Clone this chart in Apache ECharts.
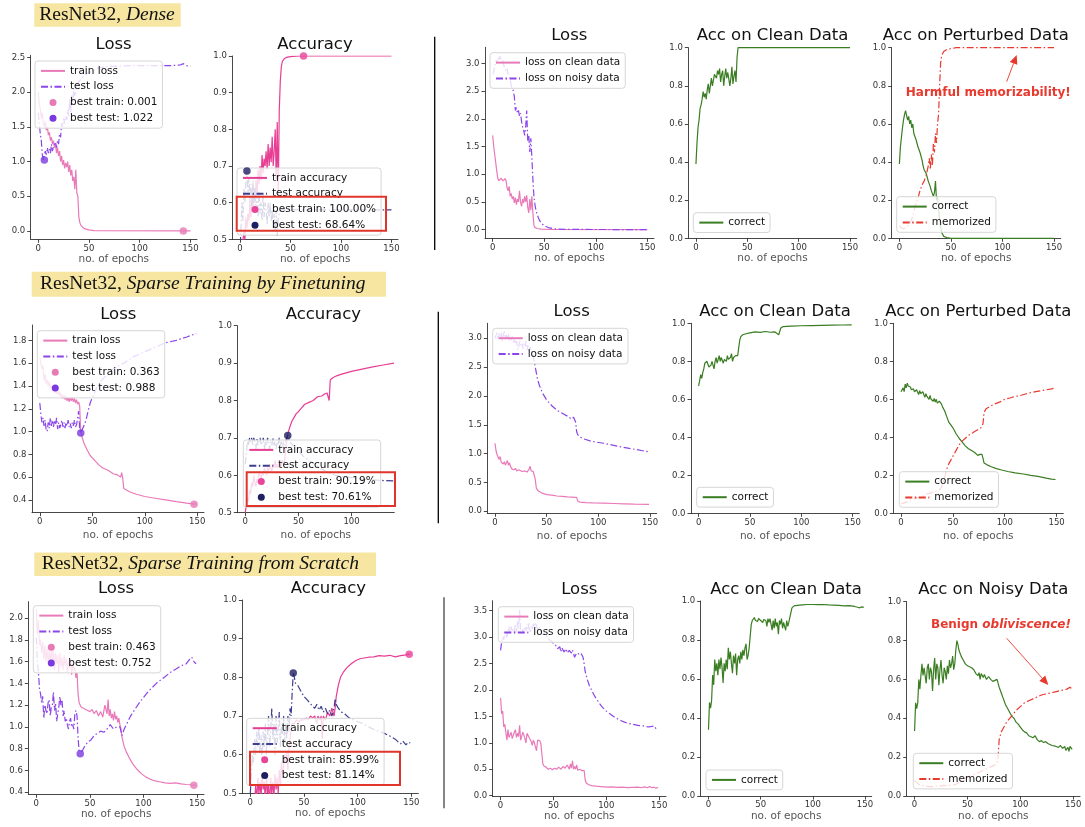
<!DOCTYPE html>
<html>
<head>
<meta charset="utf-8">
<script src="https://cdn.jsdelivr.net/npm/echarts@6/dist/echarts.min.js"></script>
<style>
html,body{margin:0;padding:0;background:#fff;}
#chart{width:1085px;height:827px;}
</style>
</head>
<body>
<div id="chart"></div>
<script>
// ---------------- tick labels ----------------
const epochTicks = [0, 50, 100, 150];
const epochTicksShort = [0, 50, 100];
const accTicks = [0.5, 0.6, 0.7, 0.8, 0.9, 1.0];
const fracTicks = [0, 0.2, 0.4, 0.6, 0.8, 1.0];
const denseLossTicks = [0, 0.5, 1.0, 1.5, 2.0, 2.5];
const noisyLossTicks = [0, 0.5, 1.0, 1.5, 2.0, 2.5, 3.0];
const ftLossTicks = [0.4, 0.6, 0.8, 1.0, 1.2, 1.4, 1.6, 1.8];
const scLossTicks = [0.4, 0.6, 0.8, 1.0, 1.2, 1.4, 1.6, 1.8, 2.0];
const scNoisyLossTicks = [0, 0.5, 1.0, 1.5, 2.0, 2.5, 3.0, 3.5];

// ---------------- headers / titles ----------------
const rowHeaders = [["ResNet32, ", "Dense"], ["ResNet32, ", "Sparse Training by Finetuning"], ["ResNet32, ", "Sparse Training from Scratch"]];
const panelTitles = [
  ["Loss", "Accuracy", "Loss", "Acc on Clean Data", "Acc on Perturbed Data"],
  ["Loss", "Accuracy", "Loss", "Acc on Clean Data", "Acc on Perturbed Data"],
  ["Loss", "Accuracy", "Loss", "Acc on Clean Data", "Acc on Noisy Data"]
];
const annotations = ["Harmful memorizability!", "Benign obliviscence!"];

// ---------------- Row 1: Dense ----------------
const denseTrainLoss = [[0,2.0],[1,1.85],[2,1.75],[3,1.62],[4,1.7],[5,1.55],[6,1.5],[7,1.58],[8,1.45],[9,1.5],[10,1.38],[11,1.42],[12,1.3],[13,1.35],[14,1.25],[15,1.3],[16,1.2],[17,1.25],[18,1.12],[19,1.2],[20,1.08],[21,1.15],[22,1.0],[23,1.08],[24,0.95],[25,1.02],[26,0.9],[27,0.98],[28,0.92],[29,1.0],[30,0.85],[31,0.95],[32,0.8],[33,0.88],[34,0.72],[35,0.78],[36,0.6],[37,0.88],[38,0.55],[39,0.5],[40,0.2],[41,0.12],[42,0.08],[44,0.05],[46,0.03],[50,0.015],[55,0.006],[60,0.003],[150,0.001]];
const denseTestLoss = [[0,1.7],[1,1.55],[2,1.4],[3,1.3],[4,1.1],[5,1.022],[6,1.1],[7,1.15],[8,1.1],[9,1.2],[10,1.12],[11,1.18],[12,1.12],[13,1.25],[14,1.15],[15,1.22],[16,1.2],[17,1.28],[18,1.2],[19,1.3],[20,1.25],[21,1.4],[22,1.35],[23,1.55],[24,1.5],[25,1.62],[26,1.55],[27,1.65],[28,1.6],[29,1.75],[30,1.65],[31,1.9],[32,1.7],[33,1.95],[34,1.85],[35,2.05],[36,1.95],[38,2.1],[40,2.15],[43,2.2],[46,2.25],[50,2.28],[55,2.32],[60,2.35],[70,2.37],[90,2.38],[110,2.38],[130,2.38],[140,2.39],[143,2.41],[146,2.38],[150,2.37]];
const denseTrainAcc = [[0,0.42],[2,0.47],[4,0.52],[5,0.5],[6,0.56],[7,0.53],[8,0.57],[9,0.55],[10,0.6],[11,0.56],[12,0.62],[13,0.58],[14,0.64],[15,0.6],[16,0.66],[17,0.62],[18,0.69],[19,0.65],[20,0.7],[21,0.66],[22,0.73],[23,0.68],[24,0.72],[25,0.7],[26,0.74],[27,0.69],[28,0.76],[29,0.7],[30,0.75],[31,0.71],[32,0.78],[33,0.7],[34,0.74],[35,0.8],[36,0.66],[37,0.82],[38,0.62],[39,0.85],[40,0.93],[41,0.97],[42,0.985],[44,0.993],[47,0.997],[52,0.999],[60,1.0],[150,1.0]];
const denseTestAcc = [[0,0.45],[1,0.52],[2,0.6],[3,0.55],[4,0.64],[5,0.6],[6,0.66],[7,0.6864],[8,0.62],[9,0.67],[10,0.6],[11,0.65],[12,0.58],[13,0.66],[14,0.6],[15,0.64],[16,0.58],[17,0.62],[18,0.56],[19,0.63],[20,0.57],[21,0.6],[22,0.55],[23,0.62],[24,0.56],[25,0.6],[26,0.58],[27,0.54],[28,0.6],[29,0.56],[30,0.6],[31,0.55],[32,0.58],[33,0.53],[34,0.57],[35,0.52],[36,0.58],[37,0.51],[38,0.56],[39,0.57],[40,0.58],[45,0.58],[150,0.58]];
const denseCleanLoss = [[0,1.7],[1,1.5],[2,1.35],[3,1.2],[4,1.05],[5,0.92],[6,0.88],[7,0.85],[8,0.93],[9,0.95],[10,0.88],[11,0.85],[12,0.92],[13,0.88],[14,0.75],[15,0.7],[16,0.78],[17,0.6],[18,0.65],[19,0.55],[20,0.6],[21,0.48],[22,0.58],[23,0.45],[24,0.55],[25,0.5],[26,0.7],[27,0.5],[28,0.42],[29,0.55],[30,0.48],[31,0.6],[32,0.5],[33,0.62],[34,0.4],[35,0.3],[36,0.55],[37,0.35],[38,0.6],[39,0.3],[40,0.08],[41,0.04],[43,0.02],[47,0.01],[55,0.003],[150,0.0]];
const denseNoisyLoss = [[0,2.8],[1,2.85],[2,2.95],[3,3.05],[4,3.0],[5,3.1],[6,3.05],[7,3.13],[8,3.08],[9,3.0],[10,3.05],[11,2.95],[12,2.9],[13,2.85],[14,2.9],[15,2.8],[16,2.75],[17,2.7],[18,2.6],[19,2.55],[20,2.5],[21,2.4],[22,2.15],[23,2.2],[24,2.1],[25,2.15],[26,2.05],[27,2.1],[28,1.95],[29,1.85],[30,1.8],[31,1.7],[32,1.85],[33,2.15],[34,1.6],[35,1.7],[36,1.4],[37,1.65],[38,1.3],[39,0.9],[40,0.6],[41,0.45],[42,0.35],[43,0.28],[45,0.18],[47,0.12],[50,0.07],[55,0.03],[62,0.01],[75,0.003],[150,0.0]];
const denseCleanAcc = [[0,0.39],[1,0.5],[2,0.58],[3,0.62],[4,0.68],[5,0.7],[6,0.73],[7,0.77],[8,0.74],[9,0.76],[10,0.73],[11,0.78],[12,0.81],[13,0.76],[14,0.75],[15,0.84],[16,0.8],[17,0.83],[18,0.86],[19,0.87],[20,0.84],[21,0.88],[22,0.86],[23,0.89],[24,0.82],[25,0.86],[26,0.88],[27,0.8],[28,0.85],[29,0.89],[30,0.84],[31,0.87],[32,0.88],[33,0.8],[34,0.84],[35,0.9],[36,0.81],[37,0.85],[38,0.88],[39,0.82],[40,0.95],[41,1.0],[150,1.0]];
const densePertCorrect = [[0,0.39],[1,0.48],[2,0.53],[3,0.58],[4,0.62],[5,0.65],[6,0.67],[7,0.68],[8,0.62],[9,0.64],[10,0.6],[11,0.62],[12,0.58],[13,0.6],[14,0.55],[15,0.56],[16,0.52],[17,0.5],[18,0.48],[19,0.47],[20,0.45],[21,0.44],[22,0.41],[23,0.38],[24,0.36],[25,0.35],[26,0.34],[27,0.33],[28,0.3],[29,0.29],[30,0.27],[31,0.25],[32,0.26],[33,0.22],[34,0.24],[35,0.3],[36,0.2],[37,0.22],[38,0.15],[39,0.1],[40,0.06],[41,0.03],[43,0.01],[46,0.004],[50,0.0],[150,0.0]];
const densePertMemorized = [[0,0.065],[2,0.055],[4,0.05],[6,0.055],[8,0.065],[10,0.08],[12,0.1],[14,0.14],[16,0.18],[18,0.21],[20,0.25],[22,0.28],[24,0.3],[26,0.33],[28,0.38],[29,0.42],[30,0.36],[31,0.44],[32,0.38],[33,0.5],[34,0.45],[35,0.55],[36,0.5],[37,0.6],[38,0.65],[39,0.8],[40,0.92],[41,0.96],[43,0.98],[46,0.99],[50,0.995],[55,1.0],[150,1.0]];
const denseBestTrainLoss = [[143, 0.001]];
const denseBestTestLoss = [[6, 1.022]];
const denseBestTrainAcc = [[63, 1.0]];
const denseBestTestAcc = [[7, 0.6864]];

// ---------------- Row 2: Sparse training by finetuning ----------------
const ftTrainLoss = [[0,1.65],[1,1.6],[2,1.55],[3,1.58],[4,1.45],[5,1.5],[6,1.42],[7,1.45],[8,1.4],[9,1.44],[10,1.38],[11,1.4],[12,1.36],[13,1.38],[14,1.34],[15,1.37],[16,1.33],[17,1.36],[18,1.32],[19,1.35],[20,1.3],[21,1.33],[22,1.29],[23,1.32],[24,1.28],[25,1.31],[26,1.27],[27,1.3],[28,1.26],[29,1.3],[30,1.27],[31,1.3],[32,1.26],[33,1.29],[34,1.25],[35,1.28],[36,1.24],[37,1.26],[38,1.22],[39,1.0],[40,0.96],[42,0.9],[45,0.84],[48,0.79],[52,0.75],[56,0.71],[60,0.68],[65,0.66],[70,0.63],[74,0.62],[77,0.6],[78,0.64],[79,0.59],[80,0.5],[82,0.49],[86,0.47],[92,0.45],[100,0.43],[110,0.415],[120,0.4],[130,0.385],[140,0.372],[147,0.363],[149,0.365]];
const ftTestLoss = [[0,1.25],[1,1.15],[2,1.08],[3,1.12],[4,1.05],[5,1.1],[6,1.02],[7,1.0],[8,1.08],[9,1.03],[10,1.12],[11,1.05],[12,1.1],[13,1.04],[14,1.1],[15,1.06],[16,1.12],[17,1.02],[18,1.08],[19,1.03],[20,1.06],[21,1.1],[22,1.04],[23,1.08],[24,1.03],[25,1.08],[26,1.05],[27,1.1],[28,1.04],[29,1.07],[30,1.03],[31,1.08],[32,1.05],[33,1.1],[34,1.04],[35,1.06],[36,1.12],[37,1.18],[38,1.02],[39,0.988],[40,1.0],[42,1.05],[44,1.1],[46,1.18],[48,1.25],[50,1.3],[54,1.38],[58,1.44],[62,1.48],[66,1.52],[70,1.55],[75,1.58],[80,1.6],[85,1.63],[90,1.66],[100,1.7],[110,1.74],[120,1.78],[130,1.8],[140,1.83],[149,1.86]];
const ftTrainAcc = [[0,0.5],[1,0.52],[2,0.54],[3,0.53],[4,0.56],[5,0.55],[6,0.58],[7,0.57],[8,0.6],[9,0.58],[10,0.57],[11,0.59],[12,0.58],[13,0.61],[14,0.6],[15,0.59],[16,0.61],[17,0.6],[18,0.62],[19,0.61],[20,0.6],[21,0.62],[22,0.61],[23,0.63],[24,0.62],[25,0.61],[26,0.63],[27,0.62],[28,0.64],[29,0.62],[30,0.63],[31,0.62],[32,0.64],[33,0.62],[34,0.63],[35,0.64],[36,0.63],[37,0.64],[38,0.64],[39,0.69],[40,0.71],[42,0.73],[44,0.745],[46,0.755],[48,0.765],[50,0.77],[53,0.78],[56,0.79],[60,0.795],[64,0.8],[68,0.81],[72,0.812],[75,0.818],[77,0.82],[78,0.81],[79,0.8],[80,0.855],[82,0.86],[86,0.866],[90,0.87],[95,0.874],[100,0.878],[110,0.884],[120,0.89],[130,0.895],[140,0.9]];
const ftTestAcc = [[0,0.63],[1,0.66],[2,0.69],[3,0.68],[4,0.7],[5,0.69],[6,0.7],[7,0.68],[8,0.7],[9,0.69],[10,0.67],[11,0.7],[12,0.68],[13,0.69],[14,0.7],[15,0.68],[16,0.69],[17,0.7],[18,0.67],[19,0.69],[20,0.68],[21,0.7],[22,0.69],[23,0.67],[24,0.69],[25,0.68],[26,0.7],[27,0.68],[28,0.69],[29,0.67],[30,0.69],[31,0.68],[32,0.7],[33,0.68],[34,0.69],[35,0.67],[36,0.69],[37,0.68],[38,0.69],[39,0.7],[40,0.706],[42,0.69],[45,0.68],[50,0.665],[55,0.65],[60,0.64],[65,0.63],[70,0.62],[75,0.612],[80,0.605],[85,0.6],[90,0.597],[100,0.594],[110,0.59],[120,0.588],[130,0.586],[140,0.585]];
const ftCleanLoss = [[0,1.18],[1,1.05],[2,0.98],[3,1.0],[4,0.9],[5,0.95],[6,0.85],[7,0.88],[8,0.82],[9,0.86],[10,0.8],[11,0.84],[12,0.88],[13,0.8],[14,0.84],[15,0.78],[16,0.74],[17,0.76],[18,0.72],[19,0.75],[20,0.74],[21,0.7],[22,0.73],[23,0.72],[24,0.75],[25,0.7],[26,0.73],[27,0.69],[28,0.72],[29,0.7],[30,0.72],[31,0.68],[32,0.71],[33,0.73],[34,0.78],[35,0.7],[36,0.72],[37,0.69],[38,0.68],[39,0.55],[40,0.4],[42,0.35],[45,0.32],[50,0.29],[55,0.28],[60,0.265],[65,0.26],[70,0.25],[75,0.245],[77,0.24],[78,0.27],[79,0.24],[80,0.18],[82,0.16],[88,0.15],[95,0.145],[105,0.14],[115,0.135],[125,0.13],[135,0.125],[149,0.12]];
const ftNoisyLoss = [[0,3.0],[1,3.05],[2,3.1],[3,2.98],[4,3.08],[5,3.02],[6,3.1],[7,2.95],[8,3.05],[9,3.12],[10,2.98],[11,3.06],[12,3.0],[13,3.08],[14,2.95],[15,3.04],[16,2.97],[17,3.05],[18,2.92],[19,3.0],[20,2.9],[21,2.95],[22,2.8],[23,2.85],[24,2.95],[25,2.88],[26,2.92],[27,2.82],[28,2.9],[29,2.85],[30,2.95],[31,2.8],[32,2.88],[33,2.75],[34,2.85],[35,2.8],[36,2.78],[37,2.7],[38,2.6],[39,2.5],[41,2.3],[43,2.18],[46,2.05],[50,1.93],[55,1.83],[60,1.75],[65,1.7],[70,1.65],[74,1.6],[76,1.63],[78,1.55],[79,1.38],[80,1.33],[83,1.28],[87,1.25],[92,1.22],[98,1.2],[105,1.18],[111,1.16],[118,1.13],[124,1.11],[130,1.09],[137,1.07],[143,1.05],[149,1.03]];
const ftCleanAcc = [[0,0.67],[1,0.7],[2,0.73],[3,0.71],[4,0.74],[5,0.76],[6,0.79],[7,0.78],[8,0.8],[9,0.79],[10,0.77],[11,0.76],[12,0.78],[13,0.8],[14,0.78],[15,0.76],[16,0.8],[17,0.82],[18,0.79],[19,0.81],[20,0.83],[21,0.8],[22,0.82],[23,0.83],[24,0.79],[25,0.81],[26,0.82],[27,0.8],[28,0.83],[29,0.81],[30,0.8],[31,0.82],[32,0.84],[33,0.8],[34,0.82],[35,0.81],[36,0.83],[37,0.82],[38,0.83],[39,0.84],[40,0.91],[41,0.93],[43,0.94],[46,0.945],[50,0.95],[55,0.955],[60,0.952],[65,0.957],[70,0.953],[74,0.955],[76,0.948],[78,0.94],[79,0.935],[80,0.975],[82,0.982],[90,0.985],[100,0.987],[110,0.988],[120,0.989],[130,0.99],[140,0.991],[149,0.992]];
const ftPertCorrect = [[0,0.64],[1,0.65],[2,0.66],[3,0.64],[4,0.68],[5,0.66],[6,0.685],[7,0.67],[8,0.68],[9,0.665],[10,0.65],[11,0.64],[12,0.655],[13,0.64],[14,0.63],[15,0.65],[16,0.64],[17,0.625],[18,0.645],[19,0.63],[20,0.62],[21,0.64],[22,0.625],[23,0.61],[24,0.63],[25,0.615],[26,0.62],[27,0.6],[28,0.62],[29,0.6],[30,0.61],[31,0.59],[32,0.605],[33,0.585],[34,0.6],[35,0.58],[36,0.59],[37,0.59],[38,0.58],[39,0.575],[40,0.56],[42,0.54],[44,0.51],[46,0.48],[48,0.465],[50,0.45],[53,0.42],[56,0.395],[59,0.375],[62,0.355],[65,0.34],[68,0.33],[71,0.32],[74,0.305],[76,0.31],[77,0.3],[78,0.31],[79,0.29],[80,0.265],[83,0.255],[87,0.245],[92,0.235],[97,0.228],[103,0.22],[110,0.213],[118,0.207],[125,0.2],[132,0.194],[140,0.185],[145,0.18],[149,0.178]];
const ftPertMemorized = [[0,0.05],[3,0.055],[6,0.06],[9,0.07],[12,0.075],[15,0.08],[18,0.085],[21,0.09],[24,0.1],[27,0.105],[30,0.11],[33,0.115],[36,0.12],[38,0.13],[40,0.15],[42,0.19],[44,0.23],[46,0.26],[48,0.28],[50,0.3],[53,0.33],[56,0.36],[59,0.38],[62,0.395],[65,0.41],[68,0.42],[71,0.43],[74,0.44],[77,0.45],[78,0.445],[79,0.47],[80,0.53],[82,0.55],[85,0.56],[90,0.575],[95,0.585],[100,0.6],[105,0.607],[110,0.615],[115,0.62],[120,0.628],[125,0.635],[130,0.64],[135,0.645],[140,0.65],[145,0.655],[149,0.66]];
const ftBestTrainLoss = [[147, 0.363]];
const ftBestTestLoss = [[39, 0.988]];
const ftBestTrainAcc = [[147, 0.9019]];
const ftBestTestAcc = [[40, 0.7061]];

// ---------------- Row 3: Sparse training from scratch ----------------
const scTrainLoss = [[0,2.08],[1,1.85],[2,1.98],[3,1.75],[4,1.8],[5,1.68],[6,1.78],[7,1.62],[8,1.75],[9,1.6],[10,1.72],[11,1.58],[12,1.7],[13,1.55],[14,1.74],[15,1.6],[16,1.7],[17,1.52],[18,1.68],[19,1.58],[20,1.66],[21,1.5],[22,1.68],[23,1.55],[24,1.64],[25,1.52],[26,1.66],[27,1.56],[28,1.62],[29,1.5],[30,1.6],[31,1.54],[32,1.62],[33,1.48],[34,1.58],[35,1.52],[36,1.55],[37,1.45],[38,1.5],[39,1.3],[40,1.22],[42,1.18],[44,1.17],[46,1.16],[48,1.15],[50,1.14],[52,1.16],[54,1.12],[56,1.15],[58,1.1],[60,1.14],[62,1.09],[64,1.2],[66,1.12],[67,1.25],[68,1.1],[69,1.16],[70,1.08],[71,1.12],[72,1.06],[73,1.14],[74,1.07],[75,1.1],[76,1.04],[77,1.08],[78,1.02],[79,0.98],[80,0.9],[82,0.82],[84,0.77],[87,0.71],[90,0.66],[94,0.61],[98,0.57],[102,0.54],[106,0.52],[110,0.505],[115,0.495],[120,0.485],[125,0.48],[130,0.485],[135,0.475],[140,0.47],[144,0.468],[147,0.463],[149,0.465]];
const scTestLoss = [[0,1.82],[1,1.6],[2,1.5],[3,1.35],[4,1.3],[5,1.22],[6,1.28],[7,1.08],[8,1.2],[9,1.15],[10,1.12],[11,1.22],[12,1.25],[13,1.1],[14,1.18],[15,1.2],[16,1.32],[17,1.15],[18,1.22],[19,1.05],[20,1.12],[21,1.18],[22,1.28],[23,1.2],[24,1.25],[25,1.1],[26,1.15],[27,1.05],[28,1.08],[29,1.02],[30,0.98],[31,1.05],[32,1.08],[33,1.0],[34,1.02],[35,0.98],[36,1.12],[37,1.15],[38,1.1],[39,0.9],[40,0.77],[41,0.752],[43,0.78],[45,0.82],[48,0.86],[51,0.88],[54,0.92],[57,0.94],[60,0.96],[63,0.95],[66,0.98],[69,1.02],[72,0.98],[75,1.0],[78,1.0],[80,0.92],[82,0.98],[85,1.04],[88,1.1],[92,1.16],[96,1.22],[100,1.27],[104,1.32],[108,1.36],[112,1.4],[116,1.43],[120,1.46],[125,1.5],[130,1.53],[135,1.56],[140,1.58],[143,1.62],[145,1.64],[147,1.6],[149,1.58]];
const scTrainAcc = [[0,0.42],[1,0.46],[2,0.44],[3,0.49],[4,0.47],[5,0.52],[6,0.48],[7,0.54],[8,0.5],[9,0.53],[10,0.49],[11,0.55],[12,0.51],[13,0.53],[14,0.48],[15,0.55],[16,0.5],[17,0.52],[18,0.47],[19,0.54],[20,0.5],[21,0.53],[22,0.49],[23,0.55],[24,0.51],[25,0.54],[26,0.5],[27,0.56],[28,0.52],[29,0.58],[30,0.55],[31,0.57],[32,0.6],[33,0.58],[34,0.61],[35,0.56],[36,0.62],[37,0.64],[38,0.67],[39,0.68],[41,0.68],[43,0.69],[45,0.685],[47,0.69],[50,0.69],[52,0.695],[54,0.69],[56,0.7],[58,0.695],[60,0.7],[62,0.68],[63,0.7],[65,0.69],[66,0.7],[67,0.64],[68,0.7],[70,0.69],[72,0.71],[74,0.7],[76,0.72],[78,0.7],[79,0.72],[80,0.75],[82,0.78],[84,0.8],[87,0.815],[90,0.825],[94,0.835],[98,0.843],[102,0.848],[106,0.85],[110,0.852],[115,0.853],[120,0.856],[125,0.855],[130,0.857],[135,0.853],[140,0.856],[145,0.858],[148,0.8599],[149,0.86]];
const scTestAcc = [[0,0.5],[1,0.55],[2,0.6],[3,0.58],[4,0.64],[5,0.6],[6,0.66],[7,0.62],[8,0.67],[9,0.6],[10,0.65],[11,0.58],[12,0.66],[13,0.62],[14,0.68],[15,0.6],[16,0.65],[17,0.7],[18,0.62],[19,0.66],[20,0.72],[21,0.64],[22,0.68],[23,0.6],[24,0.7],[25,0.63],[26,0.67],[27,0.71],[28,0.62],[29,0.68],[30,0.65],[31,0.7],[32,0.63],[33,0.68],[34,0.64],[35,0.7],[36,0.66],[37,0.72],[38,0.7],[39,0.76],[40,0.8114],[41,0.8],[42,0.785],[44,0.78],[46,0.77],[48,0.76],[50,0.75],[52,0.745],[55,0.735],[58,0.725],[60,0.72],[62,0.73],[64,0.715],[66,0.725],[68,0.71],[70,0.72],[72,0.705],[74,0.715],[76,0.7],[78,0.72],[79,0.745],[80,0.73],[82,0.72],[85,0.71],[88,0.705],[92,0.695],[96,0.69],[100,0.685],[105,0.68],[110,0.672],[115,0.665],[120,0.66],[125,0.655],[130,0.648],[135,0.64],[138,0.632],[140,0.628],[142,0.635],[145,0.625],[147,0.632],[149,0.63]];
const scCleanLoss = [[0,1.85],[1,1.55],[2,1.6],[3,1.3],[4,1.35],[5,1.2],[6,1.05],[7,1.25],[8,1.1],[9,1.15],[10,1.2],[11,1.08],[12,1.05],[13,1.2],[14,1.25],[15,1.1],[16,1.18],[17,1.12],[18,1.33],[19,1.05],[20,1.12],[21,1.2],[22,1.15],[23,1.08],[24,1.0],[25,1.18],[26,1.2],[27,1.1],[28,1.12],[29,1.02],[30,0.95],[31,1.05],[32,1.0],[33,0.92],[34,0.85],[35,1.05],[36,1.06],[37,1.04],[38,1.0],[39,0.8],[40,0.6],[41,0.56],[43,0.54],[45,0.5],[47,0.52],[49,0.49],[51,0.52],[53,0.5],[55,0.54],[57,0.5],[59,0.55],[61,0.52],[63,0.58],[65,0.5],[66,0.6],[67,0.52],[68,0.66],[69,0.5],[70,0.55],[71,0.5],[72,0.58],[73,0.48],[75,0.5],[77,0.47],[79,0.48],[80,0.3],[81,0.24],[83,0.21],[86,0.19],[90,0.18],[95,0.17],[100,0.16],[105,0.165],[110,0.155],[115,0.16],[120,0.15],[125,0.155],[130,0.16],[133,0.15],[136,0.165],[139,0.15],[141,0.175],[143,0.15],[145,0.16],[147,0.14],[149,0.16]];
const scNoisyLoss = [[0,2.75],[1,2.9],[2,3.0],[3,2.95],[4,3.1],[5,3.05],[6,3.0],[7,3.1],[8,3.2],[9,3.05],[10,3.2],[11,3.1],[12,3.15],[13,3.1],[14,3.25],[15,3.1],[16,3.3],[17,3.15],[18,3.52],[19,3.1],[20,3.05],[21,3.15],[22,3.1],[23,3.2],[24,3.12],[25,3.25],[26,3.15],[27,3.28],[28,3.1],[29,3.2],[30,3.15],[31,3.25],[32,3.2],[33,3.28],[34,3.22],[35,3.15],[36,3.2],[38,3.1],[40,3.05],[42,3.08],[44,3.0],[46,2.95],[48,2.92],[50,2.88],[52,2.85],[54,2.78],[56,2.82],[57,2.72],[58,2.8],[60,2.72],[62,2.78],[63,2.7],[65,2.75],[67,2.7],[68,2.76],[70,2.62],[72,2.7],[74,2.68],[76,2.7],[78,2.62],[79,2.5],[80,2.35],[82,2.2],[84,2.08],[86,2.0],[88,1.92],[90,1.85],[93,1.76],[96,1.68],[100,1.6],[104,1.54],[108,1.48],[112,1.44],[116,1.4],[120,1.37],[125,1.35],[130,1.33],[135,1.32],[140,1.3],[143,1.31],[145,1.32],[147,1.27],[149,1.29]];
const scCleanAcc = [[0,0.34],[1,0.48],[2,0.45],[3,0.49],[4,0.62],[5,0.57],[6,0.7],[7,0.64],[8,0.68],[9,0.62],[10,0.7],[11,0.65],[12,0.71],[13,0.66],[14,0.58],[15,0.68],[16,0.64],[17,0.7],[18,0.65],[19,0.76],[20,0.7],[21,0.74],[22,0.68],[23,0.63],[24,0.72],[25,0.68],[26,0.73],[27,0.62],[28,0.7],[29,0.72],[30,0.68],[31,0.74],[32,0.7],[33,0.75],[34,0.72],[35,0.76],[36,0.78],[37,0.7],[38,0.72],[39,0.76],[40,0.82],[41,0.88],[42,0.9],[43,0.91],[44,0.915],[45,0.9],[46,0.905],[47,0.895],[48,0.91],[50,0.9],[52,0.89],[53,0.905],[55,0.9],[56,0.87],[57,0.91],[58,0.89],[59,0.91],[60,0.88],[61,0.85],[62,0.9],[63,0.86],[64,0.91],[65,0.87],[66,0.89],[67,0.83],[68,0.9],[69,0.88],[70,0.91],[71,0.86],[72,0.89],[73,0.9],[74,0.85],[75,0.9],[76,0.87],[77,0.89],[78,0.9],[79,0.94],[80,0.965],[82,0.975],[85,0.978],[90,0.98],[95,0.982],[100,0.982],[105,0.981],[110,0.982],[115,0.98],[120,0.979],[125,0.978],[130,0.975],[135,0.976],[140,0.972],[143,0.968],[145,0.965],[147,0.97],[149,0.968]];
const scNoisyCorrect = [[0,0.335],[1,0.48],[2,0.45],[3,0.48],[4,0.6],[5,0.55],[6,0.62],[7,0.68],[8,0.62],[9,0.66],[10,0.67],[11,0.58],[12,0.66],[13,0.68],[14,0.6],[15,0.66],[16,0.64],[17,0.54],[18,0.65],[19,0.71],[20,0.6],[21,0.68],[22,0.66],[23,0.57],[24,0.65],[25,0.7],[26,0.62],[27,0.58],[28,0.66],[29,0.64],[30,0.6],[31,0.67],[32,0.63],[33,0.7],[34,0.66],[35,0.68],[36,0.72],[37,0.65],[38,0.68],[39,0.75],[40,0.8],[41,0.78],[42,0.75],[44,0.72],[46,0.7],[48,0.68],[50,0.67],[52,0.665],[54,0.66],[56,0.65],[57,0.655],[58,0.63],[60,0.62],[61,0.635],[62,0.6],[63,0.63],[65,0.61],[66,0.625],[68,0.6],[70,0.615],[72,0.6],[74,0.59],[76,0.595],[78,0.6],[79,0.59],[80,0.56],[82,0.53],[84,0.5],[86,0.47],[88,0.45],[90,0.43],[92,0.41],[94,0.4],[96,0.38],[98,0.37],[100,0.355],[102,0.34],[104,0.33],[106,0.325],[108,0.31],[110,0.305],[112,0.3],[114,0.31],[116,0.29],[118,0.28],[120,0.285],[122,0.275],[124,0.28],[126,0.27],[128,0.265],[130,0.26],[132,0.258],[134,0.255],[136,0.25],[138,0.26],[140,0.245],[142,0.255],[143,0.235],[145,0.25],[146,0.23],[147,0.255],[149,0.24]];
const scNoisyMemorized = [[0,0.08],[2,0.07],[4,0.06],[6,0.055],[8,0.055],[10,0.05],[12,0.05],[15,0.048],[18,0.05],[21,0.052],[24,0.05],[27,0.055],[30,0.053],[33,0.055],[36,0.055],[39,0.06],[42,0.07],[45,0.08],[48,0.09],[52,0.1],[56,0.11],[60,0.12],[64,0.13],[68,0.14],[72,0.15],[76,0.16],[78,0.17],[79,0.2],[80,0.29],[82,0.33],[84,0.35],[87,0.38],[90,0.4],[93,0.42],[96,0.44],[100,0.46],[104,0.48],[108,0.49],[112,0.5],[116,0.51],[120,0.52],[124,0.525],[128,0.53],[132,0.535],[136,0.54],[140,0.545],[144,0.55],[147,0.56],[149,0.55]];
const scBestTrainLoss = [[147, 0.463]];
const scBestTestLoss = [[41, 0.752]];
const scBestTrainAcc = [[148, 0.8599]];
const scBestTestAcc = [[40, 0.8114]];

// ---------------- styling ----------------
const FONT = '"DejaVu Sans", sans-serif';
const PINK_LOSS = '#e97ab9';
const PURPLE = '#8b45ea';
const PINK_ACC = '#e73d93';
const NAVY = '#3e3e90';
const NAVY_DOT = '#1f1f63';
const GREEN = '#3a7d22';
const RED = '#e8392f';
const DOT_TRAIN_LOSS = '#e77bb6';
const DOT_TEST_LOSS = '#7a3ade';
const DOT_TRAIN_ACC = '#e8449a';
const DASHDOT = [7, 2.5, 1.5, 2.5];

// panel layout: [left, top, width, height], x range, x ticks, y range, y ticks, name gap
const panels = [
  {g:[30.7,55.3,166.3,184], x:[-7.45,156.45], xt:epochTicks, y:[-0.12,2.53], yt:denseLossTicks, gap:13},
  {g:[232.3,56,165.7,183.3], x:[-7.45,156.45], xt:epochTicks, y:[0.5,1.0], yt:accTicks, gap:13},
  {g:[485,47.3,169,191], x:[-7.45,156.45], xt:epochTicks, y:[-0.157,3.29], yt:noisyLossTicks, gap:13},
  {g:[688.3,47.7,168.4,190.6], x:[-7.45,156.45], xt:epochTicks, y:[0,1], yt:fracTicks, gap:13},
  {g:[891.7,47.7,169,190.6], x:[-7.45,156.45], xt:epochTicks, y:[0,1], yt:fracTicks, gap:13},

  {g:[32,325,172,187.7], x:[-7.45,156.45], xt:epochTicks, y:[0.288,1.935], yt:ftLossTicks, gap:17.5},
  {g:[237.3,325.7,157,187], x:[-7.5,140.3], xt:epochTicksShort, y:[0.5,1.0], yt:accTicks, gap:17.5},
  {g:[487.3,323.3,169.4,190], x:[-7.45,156.45], xt:epochTicks, y:[-0.035,3.26], yt:noisyLossTicks, gap:17.5},
  {g:[691,323.3,168.3,190], x:[-7.45,156.45], xt:epochTicks, y:[0,1], yt:fracTicks, gap:17.5},
  {g:[893.3,323.3,170,190], x:[-7.45,156.45], xt:epochTicks, y:[0,1], yt:fracTicks, gap:17.5},

  {g:[28.3,601.7,175.7,192.6], x:[-7.45,156.45], xt:epochTicks, y:[0.38,2.15], yt:scLossTicks, gap:13},
  {g:[242.3,600,176,193.3], x:[-7.45,156.45], xt:epochTicks, y:[0.5,1.0], yt:accTicks, gap:13},
  {g:[492.7,600.7,173.3,196], x:[-7.45,156.45], xt:epochTicks, y:[-0.02,3.69], yt:scNoisyLossTicks, gap:13},
  {g:[700.7,601,171,195], x:[-7.45,156.45], xt:epochTicks, y:[0,1], yt:fracTicks, gap:13},
  {g:[906.7,601.7,173.3,194.3], x:[-7.45,156.45], xt:epochTicks, y:[0,1], yt:fracTicks, gap:13}
];

const grids = panels.map(p => ({left:p.g[0], top:p.g[1], width:p.g[2], height:p.g[3], containLabel:false}));
const axisCol = '#333';
const xAxes = panels.map((p, i) => ({
  type:'value', gridIndex:i, min:p.x[0], max:p.x[1],
  axisLine:{show:true, onZero:false, lineStyle:{color:axisCol, width:0.9}},
  axisTick:{show:true, length:3.5, customValues:p.xt, lineStyle:{color:axisCol, width:0.9}},
  axisLabel:{show:true, customValues:p.xt, fontSize:8.5, color:'#333', margin:4.5, fontFamily:FONT, formatter:v => String(Math.round(v))},
  splitLine:{show:false},
  name:'no. of epochs', nameLocation:'middle', nameGap:p.gap,
  nameTextStyle:{fontSize:10.5, color:'#555', fontFamily:FONT}
}));
const yAxes = panels.map((p, i) => ({
  type:'value', gridIndex:i, min:p.y[0], max:p.y[1],
  axisLine:{show:true, onZero:false, lineStyle:{color:axisCol, width:0.9}},
  axisTick:{show:true, length:3.5, customValues:p.yt, lineStyle:{color:axisCol, width:0.9}},
  axisLabel:{show:true, customValues:p.yt, fontSize:8.5, color:'#333', margin:5.5, fontFamily:FONT, formatter:v => v.toFixed(1)},
  splitLine:{show:false}
}));

function lineS(name, data, gi, color, dashed, z) {
  return {type:'line', name, data, xAxisIndex:gi, yAxisIndex:gi, symbol:'none', showSymbol:false,
    lineStyle:{color, width:1.2, type: dashed ? DASHDOT : 'solid'}, itemStyle:{color}, z: z || 2, animation:false, silent:true};
}
function dotS(name, data, gi, color) {
  return {type:'scatter', name, data, xAxisIndex:gi, yAxisIndex:gi, symbol:'circle', symbolSize:7.5,
    itemStyle:{color}, z:5, clip:true, animation:false, silent:true};
}

const series = [
  // row 1
  lineS('train loss', denseTrainLoss, 0, PINK_LOSS, false),
  lineS('test loss', denseTestLoss, 0, PURPLE, true),
  dotS('best train: 0.001', denseBestTrainLoss, 0, DOT_TRAIN_LOSS),
  dotS('best test: 1.022', denseBestTestLoss, 0, DOT_TEST_LOSS),
  lineS('train accuracy', denseTrainAcc, 1, PINK_ACC, false),
  lineS('test accuracy', denseTestAcc, 1, NAVY, true),
  dotS('best train: 100.00%', denseBestTrainAcc, 1, DOT_TRAIN_ACC),
  dotS('best test: 68.64%', denseBestTestAcc, 1, NAVY_DOT),
  lineS('loss on clean data', denseCleanLoss, 2, PINK_LOSS, false),
  lineS('loss on noisy data', denseNoisyLoss, 2, PURPLE, true),
  lineS('correct', denseCleanAcc, 3, GREEN, false),
  lineS('correct', densePertCorrect, 4, GREEN, false),
  lineS('memorized', densePertMemorized, 4, RED, true),
  // row 2
  lineS('train loss', ftTrainLoss, 5, PINK_LOSS, false),
  lineS('test loss', ftTestLoss, 5, PURPLE, true),
  dotS('best train: 0.363', ftBestTrainLoss, 5, DOT_TRAIN_LOSS),
  dotS('best test: 0.988', ftBestTestLoss, 5, DOT_TEST_LOSS),
  lineS('train accuracy', ftTrainAcc, 6, PINK_ACC, false),
  lineS('test accuracy', ftTestAcc, 6, NAVY, true),
  dotS('best train: 90.19%', ftBestTrainAcc, 6, DOT_TRAIN_ACC),
  dotS('best test: 70.61%', ftBestTestAcc, 6, NAVY_DOT),
  lineS('loss on clean data', ftCleanLoss, 7, PINK_LOSS, false),
  lineS('loss on noisy data', ftNoisyLoss, 7, PURPLE, true),
  lineS('correct', ftCleanAcc, 8, GREEN, false),
  lineS('correct', ftPertCorrect, 9, GREEN, false),
  lineS('memorized', ftPertMemorized, 9, RED, true),
  // row 3
  lineS('train loss', scTrainLoss, 10, PINK_LOSS, false),
  lineS('test loss', scTestLoss, 10, PURPLE, true),
  dotS('best train: 0.463', scBestTrainLoss, 10, DOT_TRAIN_LOSS),
  dotS('best test: 0.752', scBestTestLoss, 10, DOT_TEST_LOSS),
  lineS('train accuracy', scTrainAcc, 11, PINK_ACC, false),
  lineS('test accuracy', scTestAcc, 11, NAVY, true),
  dotS('best train: 85.99%', scBestTrainAcc, 11, DOT_TRAIN_ACC),
  dotS('best test: 81.14%', scBestTestAcc, 11, NAVY_DOT),
  lineS('loss on clean data', scCleanLoss, 12, PINK_LOSS, false),
  lineS('loss on noisy data', scNoisyLoss, 12, PURPLE, true),
  lineS('correct', scCleanAcc, 13, GREEN, false),
  lineS('correct', scNoisyCorrect, 14, GREEN, false),
  lineS('memorized', scNoisyMemorized, 14, RED, true)
];

// legend entries: line entries hide the marker, dot entries keep it
function legendAt(left, top, lineNames, dotNames) {
  const data = lineNames.map(n => ({name:n}))
    .concat((dotNames || []).map(n => ({name:n, itemStyle:{opacity:1}})));
  return {show:true, left, top, orient:'vertical', data, itemWidth:24, itemHeight:7, itemGap:0,
    padding:[2,5,2,5], backgroundColor:'rgba(255,255,255,0.8)', borderColor:'#d6d6d6', borderWidth:1, borderRadius:3,
    selectedMode:false, itemStyle:{opacity:0},
    textStyle:{fontSize:10.5, lineHeight:15.8, color:'#111', fontFamily:FONT}};
}
const legends = [
  legendAt(35, 61, ['train loss','test loss'], ['best train: 0.001','best test: 1.022']),
  legendAt(237, 168, ['train accuracy','test accuracy'], ['best train: 100.00%','best test: 68.64%']),
  legendAt(490, 52.7, ['loss on clean data','loss on noisy data']),
  legendAt(693.3, 212.7, ['correct']),
  legendAt(896.7, 196.7, ['correct','memorized']),
  legendAt(37.3, 330.7, ['train loss','test loss'], ['best train: 0.363','best test: 0.988']),
  legendAt(243.3, 440, ['train accuracy','test accuracy'], ['best train: 90.19%','best test: 70.61%']),
  legendAt(492.7, 328.3, ['loss on clean data','loss on noisy data']),
  legendAt(696.7, 487.3, ['correct']),
  legendAt(899.3, 471.7, ['correct','memorized']),
  legendAt(33.3, 605.7, ['train loss','test loss'], ['best train: 0.463','best test: 0.752']),
  legendAt(246.7, 718.3, ['train accuracy','test accuracy'], ['best train: 85.99%','best test: 81.14%']),
  legendAt(498.3, 606.7, ['loss on clean data','loss on noisy data']),
  legendAt(706, 770, ['correct']),
  legendAt(913.3, 753.3, ['correct','memorized'])
];

// ---------------- graphics: headers, titles, separators, highlight boxes, annotations ----------------
const graphics = [];
const headerBoxes = [[34.3,3.3,146.4,23.4,39.3,15],[31.7,271.7,354.3,25,40,284],[34.3,552.5,341.7,23.5,41.7,564]];
headerBoxes.forEach((b, r) => {
  graphics.push({type:'rect', shape:{x:b[0], y:b[1], width:b[2], height:b[3]}, style:{fill:'#f6e6a2'}, z:10});
  graphics.push({type:'text', x:b[4], y:b[5], z:11, style:{
    text:'{a|' + rowHeaders[r][0] + '}{b|' + rowHeaders[r][1] + '}', verticalAlign:'middle', align:'left',
    rich:{a:{fontFamily:'"Liberation Serif", serif', fontSize:19.5, fill:'#111'},
          b:{fontFamily:'"Liberation Serif", serif', fontSize:19.5, fontStyle:'italic', fill:'#111'}}}});
});
const titlePos = [
  [[113.6,45],[315,45],[569.3,36],[772.5,36],[975.8,36]],
  [[118.3,314.3],[323.3,314.3],[571.7,311.7],[775,311.7],[978.3,311.7]],
  [[116,588.3],[328.3,588.3],[579.3,590],[786,590],[993.3,590]]
];
titlePos.forEach((row, r) => row.forEach((pos, c) => {
  graphics.push({type:'text', x:pos[0], y:pos[1], z:11, style:{text:panelTitles[r][c], align:'center', verticalAlign:'middle',
    fontSize:16.5, fontFamily:FONT, fill:'#111'}});
}));
// vertical separators
[[434.7,36.7,250,'#000'],[438.3,311.7,523.3,'#000'],[444,597.3,808.3,'#444']].forEach(s => {
  graphics.push({type:'line', shape:{x1:s[0], y1:s[1], x2:s[0], y2:s[2]}, style:{stroke:s[3], lineWidth:1.3}, z:10});
});
// red highlight boxes
[[236.7,196.7,149.3,34],[246.7,472.3,148.3,33.7],[250,751.7,150,33.3]].forEach(b => {
  graphics.push({type:'rect', shape:{x:b[0], y:b[1], width:b[2], height:b[3]}, style:{fill:'none', stroke:'#e0352b', lineWidth:2}, z:20});
});
// annotations
graphics.push({type:'text', x:988.3, y:92.7, z:12, style:{text:annotations[0], align:'center', verticalAlign:'middle',
  fontSize:12, fontWeight:'bold', fontFamily:FONT, fill:RED}});
graphics.push({type:'text', x:1001, y:625, z:12, style:{text:'{a|Benign }{b|obliviscence!}', align:'center', verticalAlign:'middle',
  rich:{a:{fontSize:12, fontWeight:'bold', fontFamily:FONT, fill:RED}, b:{fontSize:12, fontWeight:'bold', fontStyle:'italic', fontFamily:FONT, fill:RED}}}});
function arrow(x1, y1, x2, y2) {
  const dx = x2 - x1, dy = y2 - y1, len = Math.sqrt(dx*dx + dy*dy);
  const ux = dx/len, uy = dy/len, hl = 9, hw = 4;
  const bx = x2 - ux*hl, by = y2 - uy*hl;
  graphics.push({type:'line', shape:{x1, y1, x2:bx, y2:by}, style:{stroke:RED, lineWidth:0.9}, z:12});
  graphics.push({type:'polygon', shape:{points:[[x2,y2],[bx - uy*hw, by + ux*hw],[bx + uy*hw, by - ux*hw]]}, style:{fill:RED}, z:12});
}
arrow(1006.7, 81.7, 1016.7, 55);
arrow(1006.7, 638.3, 1048.3, 685);

const chart = echarts.init(document.getElementById('chart'), null, {renderer:'canvas'});
chart.setOption({
  backgroundColor:'#ffffff',
  animation:false,
  grid:grids, xAxis:xAxes, yAxis:yAxes, series, legend:legends, graphic:graphics
});
</script>
</body>
</html>
